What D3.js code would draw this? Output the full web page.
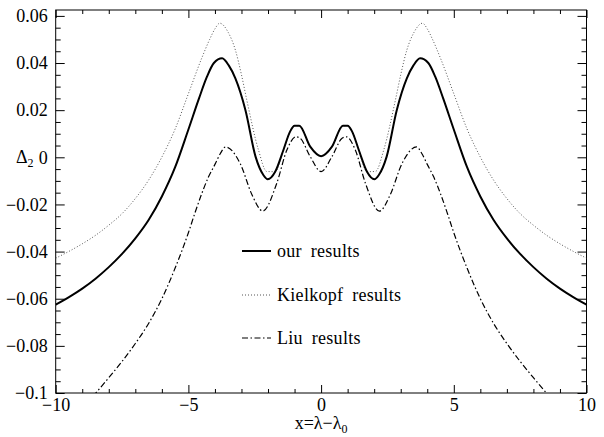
<!DOCTYPE html>
<html>
<head>
<meta charset="utf-8">
<script src="https://cdn.jsdelivr.net/npm/d3@7"></script>
<style>
  body { margin: 0; background: #fff; }
  svg { display: block; }
  text { font-family: "Liberation Serif", "DejaVu Serif", serif; fill: #000; }
  .axis path.domain { display: none; }
  .axis line { stroke: #000; stroke-width: 1; }
  .axis text { font-size: 18px; font-family: "Liberation Serif", "DejaVu Serif", serif; }
</style>
</head>
<body>
<svg id="chart"></svg>
<script>
// --- data ---
const ourX = [-10, -9.5, -9, -8.5, -8, -7.5, -7, -6.5, -6, -5.5, -5, -4.6, -4.3, -4.04, -3.73, -3.48, -3.23, -2.85, -2.47, -2.17, -2.01, -1.73, -1.42, -1.17, -1.00, -0.82, -0.41, 0,
              0.41, 0.82, 1.00, 1.17, 1.42, 1.73, 2.01, 2.17, 2.47, 2.85, 3.23, 3.48, 3.73, 4.04, 4.3, 4.6, 5, 5.5, 6, 6.5, 7, 7.5, 8, 8.5, 9, 9.5, 10];
const ourY = [-0.0625, -0.0593, -0.0557, -0.0515, -0.0466, -0.0410, -0.0344, -0.0266, -0.0166, -0.0042, 0.0118, 0.0250, 0.0342, 0.0400, 0.0420, 0.0390, 0.0335, 0.0200, 0.0003, -0.0076, -0.0093, -0.0061, 0.0031, 0.0109, 0.0134, 0.0134, 0.0045, 0.0005,
              0.0045, 0.0134, 0.0134, 0.0109, 0.0031, -0.0061, -0.0093, -0.0076, 0.0003, 0.0200, 0.0335, 0.0390, 0.0420, 0.0400, 0.0342, 0.0250, 0.0118, -0.0042, -0.0166, -0.0266, -0.0344, -0.0410, -0.0466, -0.0515, -0.0557, -0.0593, -0.0625];

const kielX = [-10, -9.5, -9, -8.5, -8, -7.5, -7, -6.5, -6, -5.5, -5, -4.5, -4.2, -4.0, -3.82, -3.50, -3.23, -3.00, -2.80, -2.36, -2.05, -1.73, -1.42, -1.17, -1.00, -0.82, -0.41, 0,
               0.41, 0.82, 1.00, 1.17, 1.42, 1.73, 2.05, 2.36, 2.80, 3.00, 3.23, 3.50, 3.82, 4.0, 4.2, 4.5, 5, 5.5, 6, 6.5, 7, 7.5, 8, 8.5, 9, 9.5, 10];
const kielY = [-0.0428, -0.0399, -0.0367, -0.0331, -0.0288, -0.0239, -0.0175, -0.0097, 0.0001, 0.0120, 0.0270, 0.0420, 0.0500, 0.0545, 0.0569, 0.0530, 0.0455, 0.0350, 0.0243, 0.0031, -0.0060, -0.0061, 0.0031, 0.0109, 0.0134, 0.0134, 0.0045, 0.0005,
               0.0045, 0.0134, 0.0134, 0.0109, 0.0031, -0.0061, -0.0060, 0.0031, 0.0243, 0.0350, 0.0455, 0.0530, 0.0569, 0.0545, 0.0500, 0.0420, 0.0270, 0.0120, 0.0001, -0.0097, -0.0175, -0.0239, -0.0288, -0.0331, -0.0367, -0.0399, -0.0428];

const liuX = [-8.6, -8, -7.5, -7, -6.5, -6, -5.5, -5, -4.75, -4.5, -4.25, -4.0, -3.8, -3.60, -3.05, -2.60, -2.20, -1.67, -1.29, -0.95, -0.79, -0.41, 0,
              0.41, 0.79, 0.95, 1.29, 1.67, 2.20, 2.60, 3.05, 3.60, 3.8, 4.0, 4.25, 4.5, 4.75, 5, 5.5, 6, 6.5, 7, 7.5, 8, 8.6];
const liuY = [-0.1015, -0.0935, -0.0866, -0.0790, -0.0705, -0.0600, -0.0470, -0.0320, -0.0235, -0.0155, -0.0085, -0.0030, 0.0015, 0.0044, -0.0026, -0.0160, -0.0228, -0.0110, 0.0031, 0.0087, 0.0081, 0.0003, -0.0061,
              0.0003, 0.0081, 0.0087, 0.0031, -0.0110, -0.0228, -0.0160, -0.0026, 0.0044, 0.0015, -0.0030, -0.0085, -0.0155, -0.0235, -0.0320, -0.0470, -0.0600, -0.0705, -0.0790, -0.0866, -0.0935, -0.1015];

const xMajor = [-10, -5, 0, 5, 10];
const xTickLabels = ["\u221210", "\u22125", "0", "5", "10"];
const xMinor = [-9, -8, -7, -6, -4, -3, -2, -1, 1, 2, 3, 4, 6, 7, 8, 9];
const yMajor = [-0.1, -0.08, -0.06, -0.04, -0.02, 0, 0.02, 0.04, 0.06];
const yTickLabels = ["\u22120.1", "\u22120.08", "\u22120.06", "\u22120.04", "\u22120.02", "0", "0.02", "0.04", "0.06"];
const yMinor = [-0.095, -0.09, -0.085, -0.075, -0.07, -0.065, -0.055, -0.05, -0.045, -0.035, -0.03, -0.025,
                -0.015, -0.01, -0.005, 0.005, 0.01, 0.015, 0.025, 0.03, 0.035, 0.045, 0.05, 0.055];

const legendLabels = ["our results", "Kielkopf results", "Liu results"];

// --- layout ---
const width = 604, height = 437;
const plotLeft = 55.7, plotRight = 586.5, plotTop = 10, plotBottom = 393;

const svg = d3.select('#chart').attr('width', width).attr('height', height);

const x = d3.scaleLinear().domain([-10, 10]).range([plotLeft, plotRight]);
const y = d3.scaleLinear().domain([-0.1, 0.0625]).range([plotBottom, plotTop]);

svg.append('defs').append('clipPath').attr('id', 'plot-clip')
  .append('rect')
  .attr('x', plotLeft).attr('y', plotTop)
  .attr('width', plotRight - plotLeft).attr('height', plotBottom - plotTop);

// frame
svg.append('rect')
  .attr('x', plotLeft).attr('y', plotTop)
  .attr('width', plotRight - plotLeft).attr('height', plotBottom - plotTop)
  .attr('fill', 'none').attr('stroke', '#000').attr('stroke-width', 1);

// ticks, all pointing inwards
const fmtX = v => xTickLabels[xMajor.indexOf(v)];
const fmtY = v => yTickLabels[yMajor.indexOf(v)];

svg.append('g').attr('class', 'axis').attr('transform', `translate(0,${plotBottom})`)
  .call(d3.axisBottom(x).tickValues(xMajor).tickFormat(fmtX).tickSize(-8).tickSizeOuter(0).tickPadding(5));
svg.append('g').attr('class', 'axis').attr('transform', `translate(0,${plotBottom})`)
  .call(d3.axisBottom(x).tickValues(xMinor).tickFormat('').tickSize(-4).tickSizeOuter(0));
svg.append('g').attr('class', 'axis').attr('transform', `translate(0,${plotTop})`)
  .call(d3.axisTop(x).tickValues(xMajor).tickFormat('').tickSize(-8).tickSizeOuter(0));
svg.append('g').attr('class', 'axis').attr('transform', `translate(0,${plotTop})`)
  .call(d3.axisTop(x).tickValues(xMinor).tickFormat('').tickSize(-4).tickSizeOuter(0));

svg.append('g').attr('class', 'axis').attr('transform', `translate(${plotLeft},0)`)
  .call(d3.axisLeft(y).tickValues(yMajor).tickFormat(fmtY).tickSize(-9).tickSizeOuter(0).tickPadding(8));
svg.append('g').attr('class', 'axis').attr('transform', `translate(${plotLeft},0)`)
  .call(d3.axisLeft(y).tickValues(yMinor).tickFormat('').tickSize(-5).tickSizeOuter(0));
svg.append('g').attr('class', 'axis').attr('transform', `translate(${plotRight},0)`)
  .call(d3.axisRight(y).tickValues(yMajor).tickFormat('').tickSize(-9).tickSizeOuter(0));
svg.append('g').attr('class', 'axis').attr('transform', `translate(${plotRight},0)`)
  .call(d3.axisRight(y).tickValues(yMinor).tickFormat('').tickSize(-5).tickSizeOuter(0));

// axis titles
const yTitle = svg.append('text')
  .attr('x', 16).attr('y', y(0) + 6)
  .attr('font-size', 18);
yTitle.append('tspan').text('\u0394');
yTitle.append('tspan').attr('font-size', 12).attr('dy', 4).text('2');

const xTitle = svg.append('text')
  .attr('x', x(0)).attr('y', 429)
  .attr('text-anchor', 'middle')
  .attr('font-size', 18);
xTitle.append('tspan').text('x=\u03bb\u2212\u03bb');
xTitle.append('tspan').attr('font-size', 12).attr('dy', 4).text('0');

// --- series ---
const series = [
  { xs: ourX, ys: ourY, stroke: '#000', width: 2, dash: null },
  { xs: kielX, ys: kielY, stroke: '#555', width: 1, dash: '1,2' },
  { xs: liuX, ys: liuY, stroke: '#000', width: 1.2, dash: '6,2.5,1.5,2.5' }
];

const line = d3.line()
  .x(d => x(d[0]))
  .y(d => y(d[1]))
  .curve(d3.curveMonotoneX);

const plot = svg.append('g').attr('clip-path', 'url(#plot-clip)');

// dotted and dash-dot first, solid on top
[series[1], series[2], series[0]].forEach(s => {
  plot.append('path')
    .datum(s.xs.map((v, i) => [v, s.ys[i]]))
    .attr('d', line)
    .attr('fill', 'none')
    .attr('stroke', s.stroke)
    .attr('stroke-width', s.width)
    .attr('stroke-dasharray', s.dash);
});

// --- legend ---
const legendY = [251, 295, 338];
const legend = svg.append('g');
series.forEach((s, i) => {
  legend.append('line')
    .attr('x1', 242).attr('x2', 271)
    .attr('y1', legendY[i]).attr('y2', legendY[i])
    .attr('stroke', s.stroke)
    .attr('stroke-width', s.width)
    .attr('stroke-dasharray', s.dash);
  legend.append('text')
    .attr('x', 277).attr('y', legendY[i] + 6)
    .attr('font-size', 18)
    .attr('word-spacing', 4)
    .attr('letter-spacing', 0.3)
    .text(legendLabels[i]);
});
</script>
</body>
</html>
